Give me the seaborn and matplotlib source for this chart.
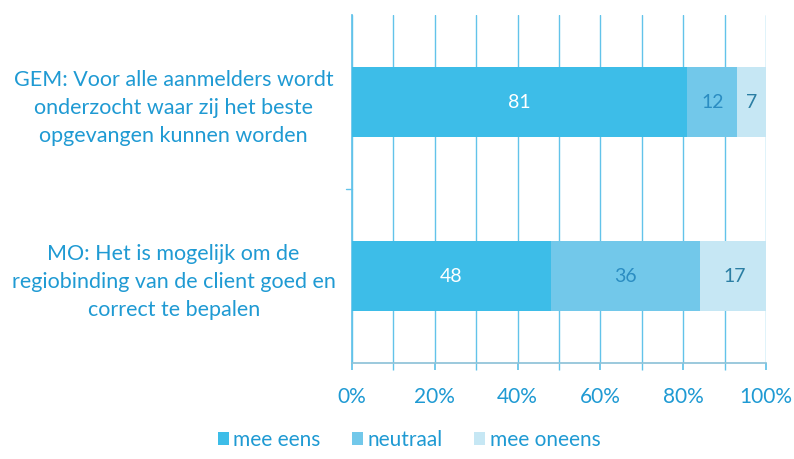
import matplotlib
matplotlib.use("Agg")
import matplotlib.pyplot as plt
import seaborn as sns
import pandas as pd
from matplotlib.patches import Patch
from matplotlib.ticker import MultipleLocator

sns.set_theme(style="white")
plt.rcParams["font.family"] = ["Lato", "DejaVu Sans"]

categories = [
    "GEM: Voor alle aanmelders wordt\nonderzocht waar zij het beste\nopgevangen kunnen worden",
    "MO: Het is mogelijk om de\nregiobinding van de client goed en\ncorrect te bepalen",
]
mee_eens = [81, 48]
neutraal = [12, 36]
mee_oneens = [7, 17]
series_names = ["mee eens", "neutraal", "mee oneens"]

colors = ["#3dbde8", "#72c8ea", "#c6e7f4"]
text_blue = "#1f9ad3"
grid_blue = "#62c3ea"

df = pd.DataFrame({"cat": categories, "eens": mee_eens,
                   "neutraal": neutraal, "oneens": mee_oneens})
df["cum2"] = df["eens"] + df["neutraal"]
df["cum3"] = df["cum2"] + df["oneens"]

fig = plt.figure(figsize=(7.94, 4.59), dpi=100)
ax = fig.add_axes([0.443, 0.209, 0.522, 0.758])

for col, c in zip(["cum3", "cum2", "eens"], colors[::-1]):
    sns.barplot(data=df, x=col, y="cat", color=c, width=0.4, ax=ax,
                saturation=1, edgecolor="none", orient="h", zorder=3)

# value labels
label_colors = ["white", "#2b8dc2", "#2b7ea3"]
for i, row in df.iterrows():
    starts = [0, row["eens"], row["cum2"]]
    vals = [row["eens"], row["neutraal"], row["oneens"]]
    for s, v, lc in zip(starts, vals, label_colors):
        ax.text(s + v / 2, i, f"{v}", ha="center", va="center",
                color=lc, fontsize=14, zorder=5)

ax.set_xlim(0, 100)
ax.set_ylim(1.5, -0.5)
ax.xaxis.set_major_locator(MultipleLocator(20))
ax.xaxis.set_minor_locator(MultipleLocator(10))
ax.set_xticklabels([f"{int(t)}%" for t in ax.get_xticks()])
ax.grid(axis="x", which="both", color=grid_blue, linewidth=1, zorder=0)
ax.set_axisbelow(True)
ax.set_xlabel("")
ax.set_ylabel("")

for s in ["top", "right"]:
    ax.spines[s].set_visible(False)
ax.spines["left"].set_color(grid_blue)
ax.spines["bottom"].set_color("#8fc3d8")

ax.tick_params(axis="x", which="both", colors=grid_blue, length=5,
               direction="out", bottom=True, labelcolor=text_blue,
               labelsize=15, pad=12)
ax.tick_params(axis="y", length=0, labelcolor=text_blue, labelsize=15.5)
for lab in ax.get_yticklabels():
    lab.set_horizontalalignment("center")
    lab.set_multialignment("center")
    lab.set_linespacing(1.5)
    lab.set_x(-0.418)

# small tick on left between categories
ax.plot([-1.5, 0], [0.5, 0.5], color=grid_blue, lw=1, clip_on=False)

handles = [Patch(facecolor=c, edgecolor="none") for c in colors]
leg = fig.legend(handles, series_names, loc="center", bbox_to_anchor=(0.515, 0.042),
                 ncol=3, frameon=False, fontsize=15, handlelength=0.55,
                 handleheight=0.55, handletextpad=0.2, columnspacing=1.5)
for t in leg.get_texts():
    t.set_color(text_blue)

fig.savefig("out.png", dpi=100)
